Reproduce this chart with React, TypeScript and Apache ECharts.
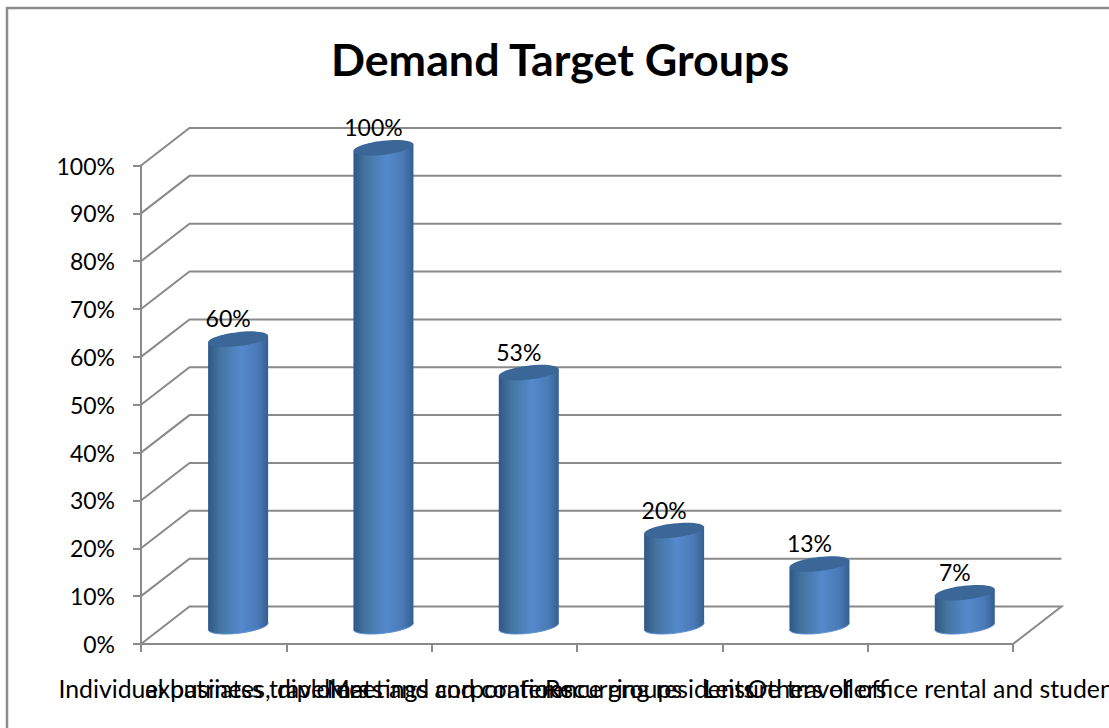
import React, { useEffect, useRef } from "react";
import * as echarts from "echarts";

const TITLE = "Demand Target Groups";
const categories = [
  "Individual business travellers",
  "expatriates, diplomats and corporations",
  "Meetings and conference groups",
  "Recurring residents",
  "Leisure travellers",
  "Others of office rental and students",
];
const values = [60, 100, 53, 20, 13, 7];
const gridTicks = [0, 10, 20, 30, 40, 50, 60, 70, 80, 90, 100];

const GRID_COLOR = "#8a8a8a";
const FONT = "Lato, Carlito, sans-serif";
const DX = 48.5;
const DY = -37.5;
const KAPPA = 0.5523;

type Pt = [number, number];
const add = (a: Pt, b: Pt, k = 1): Pt => [a[0] + b[0] * k, a[1] + b[1] * k];
const cubic = (a: Pt, b: Pt, c: Pt) => `C ${a[0]} ${a[1]} ${b[0]} ${b[1]} ${c[0]} ${c[1]}`;

function frontHalf(c: Pt, u: Pt, v: Pt) {
  const F = add(c, v);
  const L = add(c, u, -1);
  const R = add(c, u);
  return (
    cubic(add(L, v, KAPPA), add(F, u, -KAPPA), F) + " " + cubic(add(F, u, KAPPA), add(R, v, KAPPA), R)
  );
}
function backHalf(c: Pt, u: Pt, v: Pt) {
  const B = add(c, v, -1);
  const L = add(c, u, -1);
  const R = add(c, u);
  return (
    cubic(add(R, v, -KAPPA), add(B, u, KAPPA), B) + " " + cubic(add(B, u, -KAPPA), add(L, v, -KAPPA), L)
  );
}

export default function App() {
  const ref = useRef<HTMLDivElement>(null);
  useEffect(() => {
    const chart = echarts.init(ref.current!, undefined, { renderer: "svg" });
    chart.setOption({
      animation: false,
      backgroundColor: "#ffffff",
      title: {
        text: TITLE,
        left: 555,
        top: 31,
        textAlign: "center",
        textStyle: { fontFamily: FONT, fontSize: 44.8, fontWeight: "bold", color: "#000" },
      },
      graphic: [
        {
          type: "polyline",
          silent: true,
          shape: { points: [[7, 740], [7, 8], [1120, 8]] },
          style: { fill: "none", stroke: "#8c8c8c", lineWidth: 2.5 },
        },
      ],
      grid: { left: 141, right: 96, top: 165.5, bottom: 84, outerBoundsMode: "none" },
      xAxis: {
        type: "category",
        data: categories,
        axisLine: { show: true, lineStyle: { color: GRID_COLOR, width: 2 } },
        axisTick: { show: true, length: 8, alignWithLabel: false, lineStyle: { color: GRID_COLOR, width: 2 } },
        axisLabel: {
          interval: 0,
          hideOverlap: false,
          margin: 32,
          fontFamily: FONT,
          fontSize: 24.8,
          color: "#000",
        },
      },
      yAxis: {
        type: "value",
        min: 0,
        max: 100,
        interval: 10,
        axisLine: { show: true, lineStyle: { color: GRID_COLOR, width: 2 } },
        axisTick: { show: true, length: 8, lineStyle: { color: GRID_COLOR, width: 2 } },
        splitLine: { show: false },
        axisLabel: {
          formatter: "{value}%",
          margin: 26,
          padding: [3, 0, 0, 0],
          fontFamily: FONT,
          fontSize: 23,
          color: "#000",
        },
      },
      series: [
        {
          type: "custom",
          name: "walls",
          silent: true,
          z: 1,
          data: gridTicks.map((t) => [0, t]),
          encode: { x: 0, y: 1 },
          renderItem: (params: any, api: any) => {
            const v = api.value(1);
            const cs = params.coordSys;
            const y = api.coord([0, v])[1];
            const x0 = cs.x;
            const x1 = cs.x + cs.width;
            const pts: number[][] =
              v === 0
                ? [[x0, y], [x0 + DX, y + DY], [x1 + DX, y + DY], [x1, y]]
                : [[x0, y], [x0 + DX, y + DY], [x1 + DX, y + DY]];
            return {
              type: "polyline",
              shape: { points: pts },
              style: { fill: "none", stroke: GRID_COLOR, lineWidth: 2 },
            };
          },
        },
        {
          type: "custom",
          name: "cylinders",
          silent: true,
          z: 3,
          data: values.map((v, i) => [i, v]),
          encode: { x: 0, y: 1 },
          renderItem: (params: any, api: any) => {
            const i = api.value(0);
            const v = api.value(1);
            const top = api.coord([i, v]);
            const base = api.coord([i, 0]);
            const cx = top[0] + DX / 2 + 0.2;
            const ty = top[1] + DY / 2 + 1;
            const by = base[1] + DY / 2 + 1;
            const sx = 30;
            const sy = 3.5;
            const ry = 7;
            const len = Math.hypot(sx, sy);
            const u: Pt = [sx, -sy];
            const w: Pt = [(ry * sy) / len, (ry * sx) / len];
            const cTop: Pt = [cx, ty];
            const cBot: Pt = [cx, by];
            const topL = add(cTop, u, -1);
            const topR = add(cTop, u);
            const botL = add(cBot, u, -1);
            const body =
              `M ${topL[0]} ${topL[1]} L ${botL[0]} ${botL[1]} ` +
              frontHalf(cBot, u, w) +
              ` L ${topR[0]} ${topR[1]} Z`;
            const cap =
              `M ${topL[0]} ${topL[1]} ` + frontHalf(cTop, u, w) + " " + backHalf(cTop, u, w) + " Z";
            const bottomEdge = `M ${botL[0]} ${botL[1]} ` + frontHalf(cBot, u, w);
            const fill = new echarts.graphic.LinearGradient(0, 0, 1, 0, [
              { offset: 0, color: "#2f5787" },
              { offset: 0.2, color: "#44749f" },
              { offset: 0.55, color: "#5489cd" },
              { offset: 0.82, color: "#4a7bb8" },
              { offset: 1, color: "#345f91" },
            ]);
            return {
              type: "group",
              children: [
                { type: "path", shape: { pathData: body }, style: { fill } },
                {
                  type: "path",
                  shape: { pathData: bottomEdge },
                  style: { fill: "none", stroke: "#5f92d4", lineWidth: 1 },
                },
                { type: "path", shape: { pathData: cap }, style: { fill: "#3b6698" } },
                {
                  type: "text",
                  style: {
                    text: `${v}%`,
                    x: cx - 10,
                    y: ty - 21,
                    align: "center",
                    verticalAlign: "middle",
                    fontFamily: FONT,
                    fontSize: 23,
                    fill: "#000",
                  },
                },
              ],
            };
          },
        },
      ],
    });
    return () => chart.dispose();
  }, []);
  return (
    <div
      ref={ref}
      style={{ position: "absolute", left: 0, top: 0, width: 1109, height: 728, overflow: "hidden" }}
    />
  );
}
